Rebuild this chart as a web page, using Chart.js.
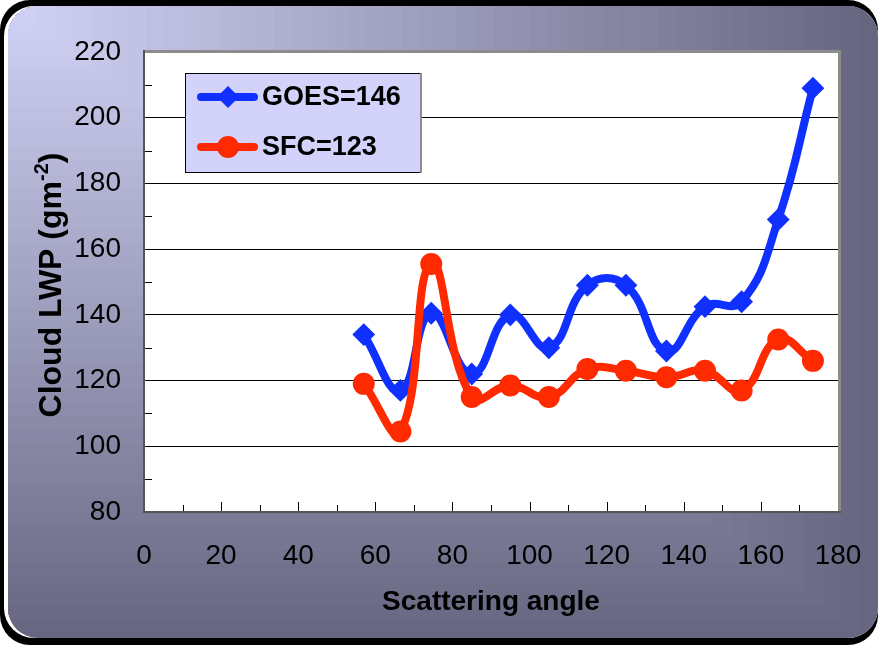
<!DOCTYPE html>
<html>
<head>
<meta charset="utf-8">
<script src="https://cdn.jsdelivr.net/npm/chart.js@4.4.1/dist/chart.umd.min.js"></script>
<style>
  html, body { margin: 0; padding: 0; background: #fff; }
  #wrap { position: relative; width: 878px; height: 645px; }
</style>
</head>
<body>
<div id="wrap"><canvas id="lwp-chart" width="878" height="645"></canvas></div>
<script>
// scattering angle (deg) and mean cloud LWP per bin
const angles = [57, 66.5, 74.5, 85, 95, 105, 115, 125, 135.5, 145.5, 155, 164.5, 173.5];
const goesLWP = [134, 117, 140.5, 122, 140, 130, 149, 149, 129, 142.5, 144, 169, 209];
const sfcLWP = [119, 104.5, 155.5, 115, 118.5, 115, 123.5, 123, 121, 123, 117, 132.5, 126];
const seriesLabels = ["GOES=146", "SFC=123"];
const xTitle = "Scattering angle";
const yTitleParts = ["Cloud LWP (gm", "-2", ")"];

const FONT = "'Liberation Sans', Arial, sans-serif";
const BLUE = "#1030FF";
const RED = "#FF2A00";

function roundRect(ctx, x, y, w, h, r) {
  ctx.beginPath();
  ctx.moveTo(x + r, y);
  ctx.arcTo(x + w, y, x + w, y + h, r);
  ctx.arcTo(x + w, y + h, x, y + h, r);
  ctx.arcTo(x, y + h, x, y, r);
  ctx.arcTo(x, y, x + w, y, r);
  ctx.closePath();
}

function drawMarker(ctx, style, x, y, r, color) {
  ctx.fillStyle = color;
  ctx.beginPath();
  if (style === 'rectRot') {
    ctx.moveTo(x, y - r); ctx.lineTo(x + r, y); ctx.lineTo(x, y + r); ctx.lineTo(x - r, y);
    ctx.closePath();
  } else {
    ctx.arc(x, y, r, 0, Math.PI * 2);
  }
  ctx.fill();
}

// rounded panel with corner gradient, white plot area
const framePlugin = {
  id: 'frame',
  beforeDraw(chart) {
    const ctx = chart.ctx, W = chart.width, H = chart.height;
    const area = chart.chartArea;
    ctx.save();
    ctx.fillStyle = '#fff';
    ctx.fillRect(0, 0, W, H);
    ctx.fillStyle = '#000';
    roundRect(ctx, 0, 0, W, H, 30);
    ctx.fill();
    ctx.fillStyle = '#fff';
    roundRect(ctx, 4, 6, W - 4, H - 13, 30);
    ctx.fill();
    ctx.save();
    roundRect(ctx, 8, 6, W - 8, H - 13, 30);
    ctx.clip();
    const light = [212, 212, 248], dark = [102, 102, 128];
    const n = 48;
    for (let i = n; i >= 1; i--) {
      const t = i / n;
      const c = light.map((v, k) => Math.round(v + (dark[k] - v) * t));
      ctx.fillStyle = `rgb(${c[0]},${c[1]},${c[2]})`;
      ctx.fillRect(0, 0, W * t, H * t);
    }
    ctx.restore();
    ctx.fillStyle = '#fff';
    ctx.fillRect(area.left, area.top, area.right - area.left, area.bottom - area.top);
    ctx.restore();
  },
  beforeDatasetsDraw(chart) {
    const ctx = chart.ctx, area = chart.chartArea;
    const xs = chart.scales.x, ys = chart.scales.y;
    ctx.save();
    ctx.strokeStyle = '#000';
    ctx.lineWidth = 1;
    // inner tick marks on the x axis
    xs.ticks.forEach(t => {
      if (t.value <= 0 || t.value >= 180) return;
      const px = Math.round(xs.getPixelForValue(t.value)) + 0.5;
      const len = t.value % 20 === 0 ? 10 : 7;
      ctx.beginPath();
      ctx.moveTo(px, area.bottom);
      ctx.lineTo(px, area.bottom - len);
      ctx.stroke();
    });
    // inner minor ticks on the y axis
    ys.ticks.forEach(t => {
      if (t.value % 20 === 0) return;
      const py = Math.round(ys.getPixelForValue(t.value)) + 0.5;
      ctx.beginPath();
      ctx.moveTo(area.left, py);
      ctx.lineTo(area.left + 8, py);
      ctx.stroke();
    });
    // plot border: grey top/right, darker axes
    ctx.strokeStyle = '#8c8c8c';
    ctx.lineWidth = 3;
    ctx.beginPath();
    ctx.moveTo(area.left, area.top - 0.5);
    ctx.lineTo(area.right + 1.5, area.top - 0.5);
    ctx.lineTo(area.right + 1.5, area.bottom + 1);
    ctx.stroke();
    ctx.strokeStyle = '#555';
    ctx.lineWidth = 2;
    ctx.beginPath();
    ctx.moveTo(area.left, area.top - 2);
    ctx.lineTo(area.left, area.bottom);
    ctx.lineTo(area.right + 3, area.bottom);
    ctx.stroke();
    ctx.restore();
  },
  afterDraw(chart) {
    const ctx = chart.ctx;
    ctx.save();
    // y axis title with superscript
    ctx.translate(61, 285);
    ctx.rotate(-Math.PI / 2);
    ctx.fillStyle = '#000';
    ctx.textBaseline = 'alphabetic';
    const mainFont = `bold 32px ${FONT}`, supFont = `bold 20px ${FONT}`;
    ctx.font = mainFont;
    const w0 = ctx.measureText(yTitleParts[0]).width;
    const w2 = ctx.measureText(yTitleParts[2]).width;
    ctx.font = supFont;
    const w1 = ctx.measureText(yTitleParts[1]).width;
    let x0 = -(w0 + w1 + w2) / 2;
    ctx.font = mainFont;
    ctx.fillText(yTitleParts[0], x0, 0);
    ctx.font = supFont;
    ctx.fillText(yTitleParts[1], x0 + w0, -13);
    ctx.font = mainFont;
    ctx.fillText(yTitleParts[2], x0 + w0 + w1, 0);
    ctx.restore();

    // legend box
    ctx.save();
    const bx = 185, by = 73, bw = 235, bh = 99;
    ctx.fillStyle = '#D2D2FA';
    ctx.fillRect(bx, by, bw, bh);
    ctx.strokeStyle = '#000';
    ctx.lineWidth = 1;
    ctx.strokeRect(bx + 0.5, by + 0.5, bw, bh);
    ctx.strokeStyle = '#8c8c8c';
    ctx.lineWidth = 2;
    ctx.beginPath();
    ctx.moveTo(bx + bw + 1, by);
    ctx.lineTo(bx + bw + 1, by + bh + 1);
    ctx.stroke();
    chart.data.datasets.forEach((ds, i) => {
      const cy = 97 + i * 50;
      ctx.strokeStyle = ds.borderColor;
      ctx.lineWidth = 8;
      ctx.lineCap = 'round';
      ctx.beginPath();
      ctx.moveTo(201, cy);
      ctx.lineTo(254, cy);
      ctx.stroke();
      drawMarker(ctx, ds.pointStyle, 228, cy, 11, ds.borderColor);
      ctx.fillStyle = '#000';
      ctx.font = `bold 27px ${FONT}`;
      ctx.textBaseline = 'middle';
      ctx.textAlign = 'left';
      ctx.fillText(ds.label, 262, cy + 1);
    });
    ctx.restore();
  }
};

const ctx = document.getElementById('lwp-chart').getContext('2d');
const lwpChart = new Chart(ctx, {
  type: 'line',
  data: {
    datasets: [
      {
        label: seriesLabels[0],
        data: angles.map((a, i) => ({ x: a, y: goesLWP[i] })),
        borderColor: BLUE,
        backgroundColor: BLUE,
        borderWidth: 8,
        tension: 0.45,
        pointStyle: 'rectRot',
        pointRadius: 10,
        pointBorderWidth: 2,
        borderJoinStyle: 'round',
        borderCapStyle: 'round',
        fill: false,
        order: 1
      },
      {
        label: seriesLabels[1],
        data: angles.map((a, i) => ({ x: a, y: sfcLWP[i] })),
        borderColor: RED,
        backgroundColor: RED,
        borderWidth: 8,
        tension: 0.45,
        pointStyle: 'circle',
        pointRadius: 10,
        pointBorderWidth: 2,
        borderJoinStyle: 'round',
        borderCapStyle: 'round',
        fill: false,
        order: 0
      }
    ]
  },
  options: {
    responsive: false,
    animation: false,
    events: [],
    layout: { padding: { left: 0, top: 52, right: 40, bottom: 0 } },
    plugins: {
      legend: { display: false },
      tooltip: { enabled: false }
    },
    scales: {
      x: {
        type: 'linear',
        min: 0,
        max: 180,
        afterFit: scale => {
          scale.height = 133;
          scale.paddingLeft = 0;
          scale.paddingRight = 0;
        },
        border: { display: false },
        grid: { display: false, drawTicks: false },
        ticks: {
          stepSize: 10,
          padding: 27,
          color: '#000',
          maxRotation: 0,
          autoSkip: false,
          font: { size: 28, family: FONT },
          callback: v => (v % 20 === 0 ? String(v) : '')
        },
        title: {
          display: true,
          text: xTitle,
          color: '#000',
          padding: { top: 0, bottom: 26 },
          font: { size: 28, weight: 'bold', family: FONT }
        }
      },
      y: {
        min: 80,
        max: 220,
        afterFit: scale => {
          scale.width = 144;
          scale.paddingTop = 0;
          scale.paddingBottom = 0;
        },
        border: { display: false },
        grid: {
          drawTicks: false,
          lineWidth: 1,
          color: c => (c.tick && c.tick.value % 20 === 0 ? '#000' : 'rgba(0,0,0,0)')
        },
        ticks: {
          stepSize: 10,
          padding: 23,
          color: '#000',
          autoSkip: false,
          font: { size: 28, family: FONT },
          callback: v => (v % 20 === 0 ? String(v) : '')
        }
      }
    }
  },
  plugins: [framePlugin]
});
</script>
</body>
</html>
